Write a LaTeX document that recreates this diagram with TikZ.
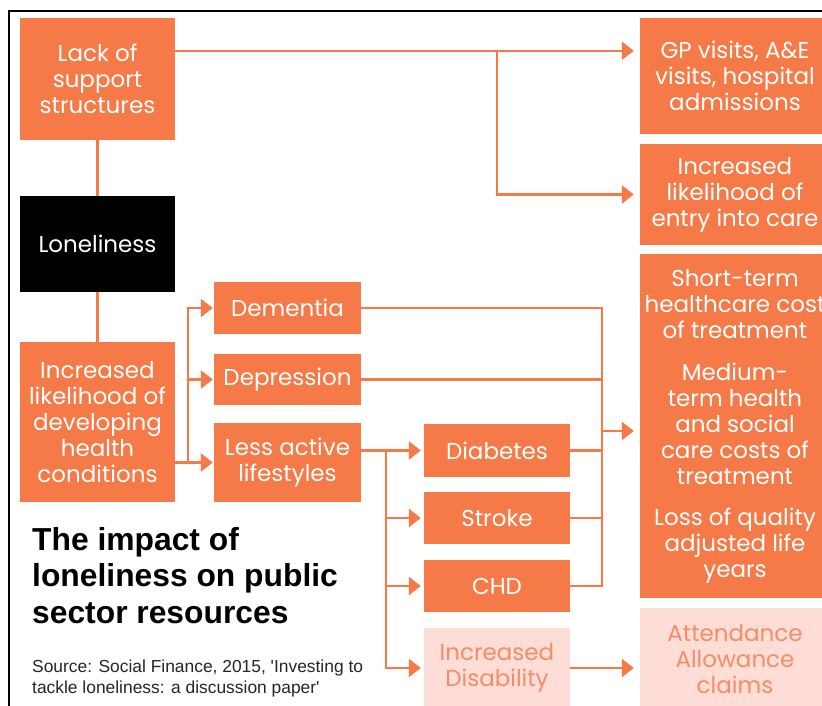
\documentclass[tikz,border=0pt]{standalone}
\usepackage{fontspec}
\setmainfont{Liberation Sans}
\newfontfamily\boxfamily{Poppins}
\usetikzlibrary{arrows.meta}
\definecolor{orng}{HTML}{F57A48}
\definecolor{pale}{HTML}{FDDDD5}
\definecolor{paletext}{HTML}{F38E69}

\begin{document}
\begin{tikzpicture}[x=1pt,y=-1pt,
  box/.style={fill=orng,text=white,align=center,inner sep=0pt,
     font=\boxfamily\fontsize{23}{26}\selectfont},
  darkbox/.style={box,fill=black},
  palebox/.style={box,fill=pale,text=paletext},
  link/.style={draw=orng,line width=2.6pt},
  arr/.style={link,-{Triangle[length=12pt,width=18pt]}},
  titleline/.style={anchor=base west,inner sep=0pt,font=\bfseries\fontsize{31.8}{37}\selectfont},
  srcline/.style={anchor=base west,inner sep=0pt,font=\fontsize{17.4}{21}\selectfont,text=black!85},
]
\useasboundingbox (0,0) rectangle (822,705);
\fill[white] (0,0) rectangle (822,705);
\clip (0,0) rectangle (822,705);
% frame
\draw[line width=2pt] (9,710) -- (9,11) -- (830,11);

% left column
\node[box,minimum width=155pt,minimum height=122pt] (lack) at (97.5,79) {Lack of\\support\\structures};
\node[darkbox,minimum width=155pt,minimum height=96pt] (lonely) at (97.5,244) {Loneliness};
\node[box,minimum width=155pt,minimum height=160pt] (incr) at (97.5,422) {Increased\\likelihood of\\developing\\health\\conditions};

% conditions
\node[box,minimum width=147pt,minimum height=52pt] (dementia) at (287.5,308) {Dementia};
\node[box,minimum width=147pt,minimum height=51pt] (depression) at (287.5,379.5) {Depression};
\node[box,minimum width=147pt,minimum height=79pt] (lessactive) at (287.5,462.5) {Less active\\lifestyles};

\node[box,minimum width=146pt,minimum height=53pt] (diabetes) at (497,450.5) {Diabetes};
\node[box,minimum width=146pt,minimum height=52pt] (stroke) at (497,518) {Stroke};
\node[box,minimum width=146pt,minimum height=52pt] (chd) at (497,586) {CHD};
\node[palebox,minimum width=146pt,minimum height=80pt] (disab) at (497,668) {Increased\\Disability};

% outcomes
\node[box,minimum width=190pt,minimum height=116pt] (gp) at (735,76) {GP visits, A\&E\\visits, hospital\\admissions};
\node[box,minimum width=190pt,minimum height=101pt] (care) at (735,194.5) {Increased\\likelihood of\\entry into care};
\node[box,minimum width=190pt,minimum height=344pt] (costs) at (735,426) {Short-term\\healthcare cost\\of treatment\\[16pt]Medium-\\term health\\and social\\care costs of\\treatment\\[15pt]Loss of quality\\adjusted life\\years};
\node[palebox,minimum width=190pt,minimum height=102pt] (attend) at (735,659) {Attendance\\Allowance\\claims};

% connectors
\draw[arr,shorten >=6pt] ([yshift=-33pt]lack.north east) -- ([yshift=-33pt]lack.north east -| gp.west);
\coordinate (split) at (497,51);
\draw[arr,shorten >=6pt] (split) |- (care.west);

\draw[link] (lack.south) -- (lonely.north);
\draw[link] (lonely.south) -- (incr.north);

\draw[arr,shorten >=1pt] (incr.east |- lessactive.west) -- (lessactive.west);
\coordinate (fork) at (188,462.5);
\draw[arr,shorten >=1pt] (fork) |- (dementia.west);
\draw[arr,shorten >=1pt] (fork) |- (depression.west);

\draw[arr,shorten >=3pt] (lessactive.east |- diabetes.west) -- (diabetes.west);
\coordinate (fork2) at (386,450.5);
\draw[arr,shorten >=3pt] (fork2) |- (stroke.west);
\draw[arr,shorten >=3pt] (fork2) |- (chd.west);
\draw[arr,shorten >=3pt] (fork2) |- (disab.west);

\coordinate (join) at (602,586);
\draw[link] (dementia.east) -| (join) -- (chd.east);
\draw[link] (depression.east) -- (depression.east -| join);
\draw[link] (diabetes.east) -- (diabetes.east -| join);
\draw[link] (stroke.east) -- (stroke.east -| join);
\coordinate (costin) at ([yshift=-5pt]costs.west);
\draw[arr,shorten >=6pt] (costin -| join) -- (costin);

\draw[arr,shorten >=6pt] (disab.east) -- (disab.east -| attend.west);

% title and source
\node[titleline] (title1) at (32,550) {The impact of};
\node[titleline] (title2) at (32,586.5) {loneliness on public};
\node[titleline] (title3) at (32,623) {sector resources};
\node[srcline] (src1) at (32,672) {Source: Social Finance, 2015, \textquotesingle Investing to};
\node[srcline] (src2) at (32,693) {tackle loneliness: a discussion paper\textquotesingle};
\end{tikzpicture}
\end{document}
